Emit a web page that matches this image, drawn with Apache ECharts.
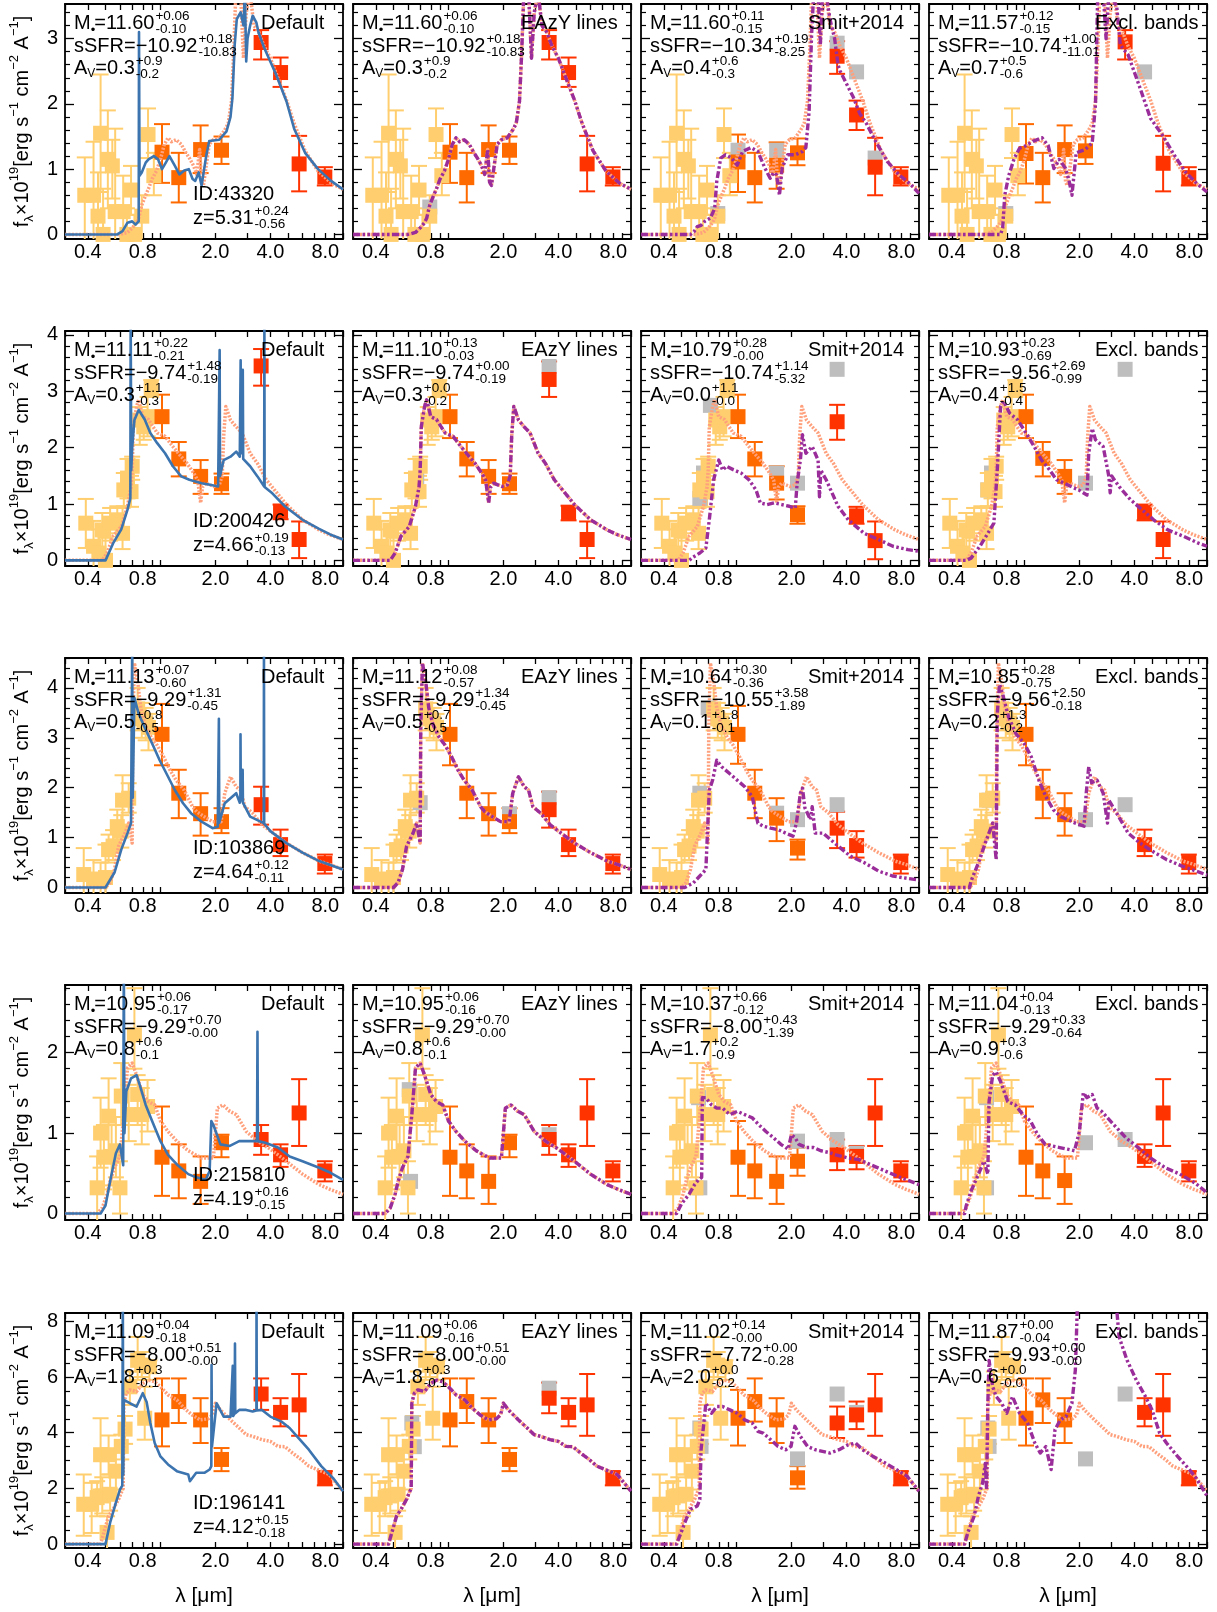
<!DOCTYPE html>
<html>
<head>
<meta charset="utf-8">
<script src="https://cdn.jsdelivr.net/npm/echarts@6/dist/echarts.min.js"></script>
<style>html,body{margin:0;padding:0;background:#fff}#chart{width:1217px;height:1612px}</style>
</head>
<body>
<div id="chart"></div>
<script>
// ---------- axis ticks ----------
const xLabelVals = [0.4, 0.8, 2.0, 4.0, 8.0];
const xTickVals = [0.3,0.4,0.5,0.6,0.7,0.8,0.9,1,2,3,4,5,6,7,8,9,10];
const xRange = [0.3, 10];
const fitLabels = ['Default', 'EAzY lines', 'Smit+2014', 'Excl. bands'];

// y ranges [min, max], major ticks, minor step per row
const yRange1 = [-0.07, 3.53], yMajor1 = [0,1,2,3], yMinorStep1 = 0.2;
const yRange2 = [-0.1, 4.07],  yMajor2 = [0,1,2,3,4], yMinorStep2 = 0.2;
const yRange3 = [-0.11, 4.6],  yMajor3 = [0,1,2,3,4], yMinorStep3 = 0.2;
const yRange4 = [-0.08, 2.84], yMajor4 = [0,1,2], yMinorStep4 = 0.2;
const yRange5 = [-0.14, 8.3],  yMajor5 = [0,2,4,6,8], yMinorStep5 = 0.5;

// ---------- row 1 : ID 43320 ----------
// photometry: [lambda(um), flux, low, high]
const yellow1 = [[0.385,0.60,-0.3,1.18],[0.43,0.60,-0.3,1.42],[0.455,0.28,-0.3,0.95],[0.47,1.55,0.65,2.45],[0.485,0.0,-0.3,0.70],
  [0.515,1.15,0.40,1.90],[0.545,1.05,0.55,1.45],[0.565,0.35,-0.3,1.62],[0.625,0.35,-0.3,0.90],[0.655,0.0,-0.3,0.40],
  [0.69,0.68,0.30,1.05],[0.72,0.0,-0.3,0.30],[0.79,0.28,-0.1,0.60],[0.855,1.53,1.17,1.93],[0.92,0.90,0.60,1.25]];
const nir1 = [[1.02,1.26,0.79,1.69],[1.26,0.87,0.49,1.25],[1.66,1.30,0.94,1.67],[2.16,1.29,1.08,1.50]];
const irac1 = [[3.56,2.94,2.68,3.13],[4.55,2.48,2.26,2.71],[5.75,1.08,0.66,1.51],[7.95,0.88,0.75,1.03]];
const greyEazy1 = [[0.79,0.42]];
const nirSmit1 = [[1.02,1.11,0.65,1.53],[1.26,0.87,0.49,1.25],[1.66,1.06,0.70,1.41],[2.16,1.25,1.06,1.47]];
const iracSmit1 = [[3.56,2.73,2.46,2.96],[4.55,1.83,1.60,2.05],[5.75,1.03,0.60,1.48],[7.95,0.88,0.75,1.03]];
const greySmit1 = [[0.79,0.32],[1.02,1.29],[1.66,1.29],[3.56,2.93],[4.55,2.49],[5.75,1.17]];
const nirExcl1 = [[1.02,1.24,0.78,1.69],[1.26,0.87,0.49,1.25],[1.66,1.30,0.94,1.67],[2.16,1.28,1.08,1.50]];
const iracExcl1 = [[3.56,2.95,2.68,3.13],[5.75,1.09,0.66,1.51],[7.95,0.87,0.75,1.03]];
const greyExcl1 = [[0.79,0.32],[4.55,2.49]];
// model spectra: [lambda(um), flux]
const salmon1 = [[0.3,0],[0.6,0],[0.66,0.03],[0.70,0.10],[0.74,0.18],[0.76,0.25],[0.79,0.45],[0.83,0.6],[0.86,0.70],[0.90,0.85],
  [0.95,0.97],[1.0,1.15],[1.05,1.38],[1.10,1.48],[1.15,1.42],[1.22,1.45],[1.30,1.38],[1.38,1.25],[1.44,1.17],[1.52,1.05],
  [1.58,0.92],[1.64,1.30],[1.68,0.80],[1.72,0.75],[1.78,1.05],[1.85,1.38],[1.95,1.45],[2.1,1.48],[2.25,1.6],[2.35,1.7],
  [2.45,2.04],[2.52,2.8],[2.58,3.6],[2.75,3.7],[2.85,2.7],[2.95,3.4],[3.1,3.7],[3.25,3.2],[3.45,3.10],[3.7,2.88],
  [4.0,2.7],[4.3,2.47],[4.9,2.06],[5.4,1.7],[6.2,1.28],[7.3,0.97],[8.6,0.79],[10,0.69]];
const blue1 = [[0.3,0],[0.58,0],[0.62,0.05],[0.66,0.18],[0.70,0.2],[0.73,0.15],[0.76,0.2],[0.763,3.1],[0.768,0.9],[0.79,0.95],
  [0.83,1.1],[0.86,1.15],[0.92,1.2],[0.97,1.15],[1.02,1.0],[1.07,1.1],[1.12,1.2],[1.2,1.05],[1.27,0.92],[1.35,0.98],
  [1.43,1.0],[1.5,0.85],[1.55,0.82],[1.62,0.95],[1.68,0.75],[1.72,0.72],[1.78,1.2],[1.85,1.43],[2.1,1.45],[2.3,1.58],
  [2.42,1.8],[2.48,2.1],[2.55,2.9],[2.62,3.3],[2.75,3.4],[2.85,3.2],[2.9,3.7],[2.95,2.65],[3.0,3.0],[3.1,3.2],
  [3.2,3.35],[3.35,3.25],[3.45,3.09],[3.7,2.86],[4.3,2.45],[4.9,2.04],[5.4,1.62],[6.2,1.25],[7.3,1.0],[8.6,0.82],[10,0.69]];
const eazyLines1 = salmon1;
const smit1 = [[0.3,0],[0.56,0],[0.585,0.04],[0.61,0.12],[0.64,0.14],[0.67,0.2],[0.72,0.25],[0.76,0.4],[0.78,0.81],[0.82,1.17],
  [0.87,1.22],[0.94,1.17],[1.01,1.06],[1.08,1.27],[1.2,1.33],[1.31,1.27],[1.43,1.02],[1.53,0.86],[1.6,0.95],[1.66,0.91],
  [1.72,0.6],[1.78,1.02],[1.91,1.22],[2.1,1.22],[2.3,1.27],[2.4,1.33],[2.5,1.88],[2.58,3.06],[2.65,3.7],[2.8,3.7],
  [2.88,2.9],[2.95,3.6],[3.1,3.7],[3.25,3.3],[3.45,3.0],[3.6,2.6],[3.7,2.5],[4.37,2.1],[4.74,1.85],[5.15,1.7],
  [5.8,1.42],[6.7,1.12],[7.8,0.91],[8.9,0.78],[10,0.63]];
const excl1 = [[0.3,0],[0.74,0],[0.76,0.1],[0.78,0.6],[0.82,0.9],[0.88,1.17],[0.94,1.32],[1.02,1.36],[1.12,1.43],[1.25,1.48],
  [1.35,1.36],[1.45,1.01],[1.55,1.15],[1.68,1.01],[1.76,0.81],[1.82,0.6],[1.92,1.25],[2.15,1.3],[2.35,1.4],[2.45,2.0],
  [2.52,3.7],[2.7,3.7],[2.8,3.0],[2.9,3.7],[3.2,3.5],[3.35,2.9],[3.7,2.75],[4.3,2.24],[4.9,1.78],[5.7,1.52],
  [6.6,1.22],[7.6,0.96],[8.8,0.78],[10,0.65]];
// fit results: [M, +, -, sSFR, +, -, Av, +, -]
const stats1 = [['11.60','+0.06','-0.10','-10.92','+0.18','-10.83','0.3','+0.9','-0.2'],
                ['11.60','+0.06','-0.10','-10.92','+0.18','-10.83','0.3','+0.9','-0.2'],
                ['11.60','+0.11','-0.15','-10.34','+0.19','-8.25','0.4','+0.6','-0.3'],
                ['11.57','+0.12','-0.15','-10.74','+1.00','-11.01','0.7','+0.5','-0.6']];
const ident1 = ['43320', '5.31', '+0.24', '-0.56'];

// ---------- row 2 : ID 200426 ----------
const yellow2 = [[0.39,0.66,0.22,1.09],[0.43,0.25,-0.3,0.70],[0.46,0.13,-0.3,0.55],[0.48,0.54,-0.3,0.84],[0.50,0.0,-0.3,0.40],
  [0.53,0.66,0.35,0.93],[0.58,0.72,0.48,0.96],[0.62,0.48,0.20,0.93],[0.63,1.25,0.96,1.55],[0.66,1.46,1.10,1.80],
  [0.69,1.22,0.95,1.50],[0.70,1.67,1.43,1.84],[0.77,2.49,2.05,2.72],[0.81,2.37,2.14,2.60],[0.85,2.55,2.20,2.90],[0.89,3.05,2.90,3.20]];
const nir2 = [[1.02,2.55,2.17,2.94],[1.26,1.80,1.49,2.10],[1.66,1.49,1.18,1.78],[2.16,1.36,1.18,1.54]];
const irac2 = [[3.56,3.45,3.10,3.75],[4.55,0.87,0.73,0.99],[5.75,0.37,0.04,0.69]];
const iracEazy2 = [[3.56,3.21,2.90,3.53],[4.55,0.85,0.71,0.97],[5.75,0.37,0.04,0.69]];
const greyEazy2 = [[0.67,1.45],[3.56,3.44]];
const nirSmit2 = [[1.02,2.55,2.17,2.94],[1.26,1.80,1.49,2.10],[1.66,1.37,1.08,1.67],[2.16,0.81,0.65,0.96]];
const iracSmit2 = [[3.56,2.46,2.14,2.76],[4.55,0.79,0.65,0.95],[5.75,0.35,0.02,0.69]];
const greySmit2 = [[0.63,1.1],[0.66,1.55],[0.72,2.75],[1.66,1.55],[2.16,1.37],[3.56,3.39]];
const nirExcl2 = [[1.02,2.55,2.17,2.94],[1.26,1.81,1.49,2.10],[1.66,1.49,1.18,1.78]];
const iracExcl2 = [[4.55,0.85,0.71,0.99],[5.75,0.37,0.04,0.69]];
const greyExcl2 = [[0.63,1.25],[0.66,1.55],[2.16,1.37],[3.56,3.39]];
const salmon2 = [[0.3,0],[0.48,0],[0.51,0.13],[0.55,0.43],[0.61,0.6],[0.66,0.96],[0.69,1.3],[0.70,1.6],[0.71,2.37],[0.74,2.73],
  [0.76,2.85],[0.78,2.7],[0.80,2.55],[0.86,2.5],[0.92,2.35],[0.96,2.26],[1.06,2.2],[1.17,2.02],[1.3,1.84],[1.4,1.72],
  [1.52,1.55],[1.6,1.42],[1.66,1.02],[1.7,1.3],[1.77,1.37],[1.96,1.31],[2.1,1.34],[2.18,1.5],[2.22,2.2],[2.28,2.73],
  [2.42,2.49],[2.6,2.37],[2.8,2.26],[3.1,1.9],[3.4,1.72],[3.8,1.43],[4.9,0.99],[6.0,0.72],[7.4,0.54],[8.5,0.45],[10,0.37]];
const blue2 = [[0.3,0],[0.5,0],[0.55,0.3],[0.61,0.55],[0.66,0.9],[0.684,1.1],[0.687,4.3],[0.692,1.6],[0.70,2.0],[0.72,2.49],
  [0.76,2.67],[0.82,2.5],[0.88,2.26],[0.96,2.08],[1.06,1.9],[1.17,1.67],[1.3,1.49],[1.44,1.43],[1.68,1.37],[1.87,1.34],
  [2.07,1.31],[2.105,1.3],[2.11,3.73],[2.12,1.5],[2.22,1.78],[2.42,1.84],[2.6,1.93],[2.72,1.84],[2.745,1.85],[2.75,3.55],
  [2.76,1.9],[2.8,1.9],[2.825,3.38],[2.84,1.8],[3.1,1.67],[3.4,1.49],[3.7,1.31],[3.71,4.3],[3.72,1.3],[4.1,1.19],
  [4.8,0.96],[6.0,0.72],[7.4,0.56],[8.5,0.46],[10,0.37]];
const eazyLines2 = salmon2;
const smit2 = [[0.3,0],[0.55,0],[0.58,0.06],[0.63,0.13],[0.68,0.22],[0.71,0.72],[0.75,1.43],[0.8,1.78],[0.84,1.6],[0.88,1.67],
  [0.96,1.61],[1.06,1.55],[1.17,1.43],[1.28,1.25],[1.35,1.02],[1.47,0.99],[1.61,1.02],[1.77,0.99],[1.95,0.96],[2.1,0.93],
  [2.15,1.37],[2.24,1.78],[2.3,2.23],[2.4,1.9],[2.6,2.02],[2.8,1.78],[2.85,1.13],[2.9,1.6],[3.1,1.43],[3.6,0.96],
  [4.1,0.72],[5.0,0.48],[6.0,0.37],[7.2,0.25],[8.7,0.19],[10,0.16]];
const excl2 = [[0.3,0],[0.48,0],[0.51,0.04],[0.57,0.25],[0.63,0.48],[0.68,0.66],[0.71,1.61],[0.74,2.73],[0.77,2.82],[0.83,2.61],
  [0.92,2.49],[1.02,2.26],[1.13,2.02],[1.24,1.78],[1.37,1.61],[1.5,1.43],[1.65,1.37],[1.8,1.31],[1.98,1.25],[2.2,1.16],
  [2.25,1.9],[2.35,2.34],[2.45,2.14],[2.7,2.02],[2.9,1.49],[2.95,1.2],[3.0,1.5],[3.3,1.31],[3.8,1.08],[4.4,0.9],
  [5.1,0.72],[6.1,0.54],[7.4,0.43],[8.9,0.31],[10,0.25]];
const stats2 = [['11.11','+0.22','-0.21','-9.74','+1.48','-0.19','0.3','+1.1','-0.3'],
                ['11.10','+0.13','-0.03','-9.74','+0.00','-0.19','0.3','+0.0','-0.2'],
                ['10.79','+0.28','-0.00','-10.74','+1.14','-5.32','0.0','+1.1','-0.0'],
                ['10.93','+0.23','-0.69','-9.56','+2.69','-0.99','0.4','+1.5','-0.4']];
const ident2 = ['200426', '4.66', '+0.19', '-0.13'];

// ---------- row 3 : ID 103869 ----------
const yellow3 = [[0.38,0.26,-0.3,0.79],[0.43,0.17,-0.3,0.55],[0.47,0.13,-0.3,0.50],[0.50,0.20,-0.3,0.86],[0.52,0.76,0.50,1.06],
  [0.55,0.83,0.55,1.15],[0.58,1.22,0.96,1.56],[0.61,1.13,0.80,1.45],[0.62,1.75,1.22,2.25],[0.67,1.79,1.50,2.09],
  [0.75,3.58,3.15,4.0],[0.79,3.38,3.0,3.7],[0.83,3.30,2.95,3.6],[0.86,3.21,2.75,3.48]];
const nir3 = [[1.02,3.07,2.45,3.68],[1.26,1.89,1.39,2.36],[1.66,1.48,1.04,1.89],[2.16,1.32,1.09,1.59]];
const irac3 = [[3.56,1.66,1.26,2.02],[4.55,0.86,0.63,1.16],[7.95,0.48,0.28,0.66]];
const iracEazy3 = [[3.56,1.56,1.20,1.92],[4.55,0.86,0.63,1.16],[7.95,0.48,0.28,0.66]];
const greyEazy3 = [[0.70,1.7],[2.16,1.48],[3.56,1.8]];
const nirSmit3 = [[1.02,3.07,2.48,3.64],[1.26,1.89,1.39,2.36],[1.66,1.39,0.93,1.79],[2.16,0.79,0.56,0.96]];
const iracSmit3 = [[3.56,1.19,0.79,1.52],[4.55,0.84,0.60,1.13],[7.95,0.50,0.28,0.66]];
const greySmit3 = [[0.63,1.89],[0.70,3.6],[1.66,1.49],[2.16,1.36],[3.56,1.66]];
const nirExcl3 = [[1.02,3.07,2.45,3.68],[1.26,1.89,1.39,2.36],[1.66,1.46,1.04,1.89]];
const iracExcl3 = [[4.55,0.86,0.63,1.16],[7.95,0.50,0.28,0.66]];
const greyExcl3 = [[0.64,1.75],[2.16,1.36],[3.56,1.66]];
const salmon3 = [[0.3,0],[0.5,0],[0.53,0.1],[0.56,0.36],[0.59,0.83],[0.64,1.09],[0.67,1.29],[0.70,0.89],[0.705,3.15],[0.72,4.5],
  [0.75,4.14],[0.78,3.6],[0.82,3.28],[0.89,3.01],[0.96,2.85],[1.04,2.62],[1.13,2.35],[1.22,2.15],[1.35,1.95],[1.5,1.62],
  [1.58,1.52],[1.74,1.42],[1.93,1.32],[2.15,1.32],[2.25,1.89],[2.42,2.22],[2.6,2.02],[2.75,1.95],[2.9,1.62],[3.2,1.49],
  [3.6,1.26],[4.0,1.13],[4.9,0.89],[6.0,0.7],[7.4,0.53],[8.5,0.46],[10,0.36]];
const blue3 = [[0.3,0],[0.5,0],[0.56,0.3],[0.61,0.76],[0.66,1.09],[0.69,1.29],[0.695,1.3],[0.70,4.8],[0.705,1.8],[0.72,3.8],
  [0.76,3.48],[0.82,3.21],[0.92,2.81],[0.99,2.55],[1.08,2.28],[1.2,1.95],[1.33,1.69],[1.47,1.49],[1.68,1.32],[1.93,1.19],
  [2.06,1.22],[2.08,1.25],[2.09,3.38],[2.1,1.3],[2.25,1.69],[2.6,1.89],[2.72,1.7],[2.74,1.75],[2.745,3.07],[2.755,1.8],
  [2.8,1.75],[2.82,2.36],[2.83,1.7],[3.1,1.42],[3.4,1.35],[3.68,1.29],[3.69,4.8],[3.7,1.28],[4.0,1.13],[4.9,0.89],
  [6.0,0.7],[7.4,0.53],[10,0.36]];
const eazyLines3 = salmon3;
const smit3 = [[0.3,0],[0.52,0],[0.58,0.09],[0.63,0.23],[0.68,0.36],[0.71,1.95],[0.74,2.15],[0.78,2.55],[0.83,2.42],[0.92,2.28],
  [1.01,2.15],[1.11,2.02],[1.22,1.82],[1.31,1.29],[1.4,1.23],[1.54,1.19],[1.69,1.16],[1.86,1.09],[2.04,1.03],[2.13,1.29],
  [2.24,1.89],[2.3,1.99],[2.37,1.6],[2.54,1.36],[2.6,1.62],[2.7,1.09],[2.98,1.09],[3.45,0.89],[4.2,0.63],[5.0,0.5],
  [6.0,0.33],[7.2,0.23],[8.7,0.18],[10,0.15]];
const excl3 = [[0.3,0],[0.5,0],[0.51,0.13],[0.56,0.5],[0.62,0.96],[0.67,1.29],[0.70,0.56],[0.71,3.48],[0.73,4.07],[0.76,3.87],
  [0.82,3.41],[0.9,3.08],[1.0,2.88],[1.09,2.62],[1.2,2.15],[1.31,1.82],[1.44,1.56],[1.58,1.42],[1.73,1.36],[1.9,1.29],
  [2.12,1.23],[2.18,1.89],[2.25,2.42],[2.33,2.1],[2.5,2.15],[2.7,1.89],[2.85,1.29],[2.9,1.75],[3.2,1.49],[3.7,1.09],
  [4.3,0.89],[5.0,0.73],[6.0,0.56],[7.3,0.43],[8.7,0.33],[10,0.25]];
const stats3 = [['11.13','+0.07','-0.60','-9.29','+1.31','-0.45','0.5','+0.8','-0.5'],
                ['11.12','+0.08','-0.57','-9.29','+1.34','-0.45','0.5','+0.7','-0.5'],
                ['10.64','+0.30','-0.36','-10.55','+3.58','-1.89','0.1','+1.8','-0.1'],
                ['10.85','+0.28','-0.75','-9.56','+2.50','-0.18','0.2','+1.3','-0.2']];
const ident3 = ['103869', '4.64', '+0.12', '-0.11'];

// ---------- row 4 : ID 215810 ----------
const yellow4 = [[0.45,0.32,-0.3,0.71],[0.47,1.0,0.57,1.44],[0.49,0.70,0.30,1.10],[0.52,1.21,0.78,1.68],[0.54,0.71,0.35,1.10],
  [0.57,0.78,0.45,1.20],[0.60,0.32,0.0,0.65],[0.61,1.46,1.10,1.87],[0.67,1.23,0.90,1.60],[0.72,2.22,1.80,2.8],
  [0.75,1.48,1.10,1.72],[0.79,1.23,0.86,1.56],[0.85,1.33,1.02,1.66]];
const nir4 = [[1.02,0.70,0.22,1.33],[1.26,0.53,0.19,0.86],[1.66,0.40,0.12,0.71],[2.16,0.88,0.70,0.98]];
const irac4 = [[3.56,0.92,0.73,1.10],[4.55,0.73,0.58,0.86],[5.75,1.25,0.84,1.67],[7.95,0.53,0.40,0.65]];
const iracEazy4 = irac4;
const greyEazy4 = [[0.61,1.54],[0.62,0.40],[3.56,0.98]];
const nirSmit4 = [[1.02,0.70,0.22,1.15],[1.26,0.53,0.19,0.86],[1.66,0.40,0.12,0.71],[2.16,0.65,0.47,0.82]];
const iracSmit4 = [[3.56,0.73,0.54,0.92],[4.55,0.71,0.55,0.84],[5.75,1.25,0.84,1.67],[7.95,0.53,0.40,0.65]];
const greySmit4 = [[0.62,1.44],[0.63,0.32],[2.16,0.90],[3.56,0.92],[4.55,0.75]];
const nirExcl4 = [[1.02,0.70,0.22,1.33],[1.26,0.53,0.19,0.86],[1.66,0.41,0.12,0.71]];
const iracExcl4 = [[4.55,0.71,0.58,0.86],[5.75,1.25,0.84,1.67],[7.95,0.53,0.40,0.65]];
const greyExcl4 = [[0.62,1.44],[0.62,0.32],[2.16,0.88],[3.56,0.92]];
const salmon4 = [[0.3,0],[0.45,0],[0.48,0.07],[0.51,0.24],[0.53,0.4],[0.56,0.57],[0.6,0.71],[0.63,1.23],[0.66,1.81],[0.70,1.87],
  [0.74,1.72],[0.8,1.48],[0.86,1.39],[0.93,1.35],[1.0,1.15],[1.1,1.02],[1.23,0.9],[1.42,0.78],[1.68,0.69],[1.95,0.69],
  [2.0,1.0],[2.05,1.31],[2.2,1.35],[2.4,1.27],[2.6,1.23],[2.95,1.02],[3.4,0.9],[4.0,0.8],[4.9,0.65],[6.0,0.49],
  [7.4,0.36],[8.5,0.3],[10,0.24]];
const blue4 = [[0.3,0],[0.47,0],[0.5,0.1],[0.53,0.4],[0.57,0.75],[0.6,0.86],[0.625,0.6],[0.63,3.2],[0.635,1.0],[0.65,1.52],
  [0.69,1.68],[0.74,1.72],[0.77,1.6],[0.83,1.35],[0.9,1.15],[1.0,0.9],[1.1,0.73],[1.23,0.61],[1.42,0.49],[1.57,0.45],
  [1.77,0.42],[1.86,0.53],[1.9,1.15],[1.95,1.1],[2.13,0.86],[2.4,0.84],[2.7,0.9],[3.1,0.9],[3.38,0.9],[3.4,2.26],
  [3.42,0.9],[3.75,0.88],[4.4,0.82],[5.1,0.71],[6.0,0.65],[7.4,0.57],[8.5,0.51],[10,0.42]];
const eazyLines4 = salmon4;
const smit4 = [[0.3,0],[0.47,0],[0.5,0.12],[0.55,0.24],[0.59,0.36],[0.62,0.42],[0.645,0.45],[0.65,1.44],[0.68,1.44],[0.73,1.35],
  [0.78,1.31],[0.84,1.31],[0.92,1.23],[1.01,1.27],[1.11,1.23],[1.22,1.19],[1.33,1.1],[1.45,1.02],[1.6,0.94],[1.75,0.86],
  [1.92,0.8],[2.0,0.98],[2.1,0.94],[2.2,0.86],[2.42,0.82],[2.65,0.82],[2.9,0.78],[3.2,0.76],[3.5,0.73],[4.1,0.69],
  [4.7,0.67],[5.4,0.61],[6.5,0.53],[7.9,0.45],[10,0.36]];
const excl4 = [[0.3,0],[0.47,0],[0.48,0.1],[0.51,0.28],[0.56,0.49],[0.6,0.65],[0.63,0.49],[0.64,1.39],[0.67,1.72],[0.7,1.76],
  [0.74,1.64],[0.81,1.39],[0.89,1.35],[0.98,1.23],[1.08,1.15],[1.18,0.98],[1.3,0.86],[1.42,0.84],[1.56,0.82],[1.72,0.8],
  [1.88,0.78],[2.0,1.02],[2.1,1.5],[2.2,1.44],[2.35,1.48],[2.5,1.31],[2.65,1.27],[2.85,1.19],[3.1,1.1],[3.6,0.94],
  [4.2,0.82],[4.9,0.69],[5.9,0.57],[7.1,0.49],[8.6,0.38],[10,0.26]];
const stats4 = [['10.95','+0.06','-0.17','-9.29','+0.70','-0.00','0.8','+0.6','-0.1'],
                ['10.95','+0.06','-0.16','-9.29','+0.70','-0.00','0.8','+0.6','-0.1'],
                ['10.37','+0.66','-0.12','-8.00','+0.43','-1.39','1.7','+0.2','-0.9'],
                ['11.04','+0.04','-0.13','-9.29','+0.33','-0.64','0.9','+0.3','-0.6']];
const ident4 = ['215810', '4.19', '+0.16', '-0.15'];

// ---------- row 5 : ID 196141 ----------
const yellow5 = [[0.38,1.43,0.30,2.50],[0.42,1.43,0.40,2.20],[0.45,1.67,1.00,2.26],[0.47,3.21,1.96,4.52],[0.48,1.73,1.10,2.40],
  [0.51,0.42,-0.3,1.00],[0.52,3.21,2.50,3.90],[0.53,1.79,1.20,2.50],[0.57,2.62,1.96,3.39],[0.61,3.51,3.04,3.93],
  [0.64,4.13,3.60,4.60],[0.68,5.65,5.00,6.20],[0.75,6.60,5.90,7.44],[0.79,6.43,6.00,6.90],[0.82,4.52,3.75,5.65],[0.87,6.37,5.90,6.60]];
const nir5 = [[1.02,4.46,3.51,5.95],[1.26,5.12,4.35,5.95],[1.66,4.46,3.63,5.24],[2.16,3.04,2.62,3.45]];
const irac5 = [[3.56,5.39,4.82,5.95],[4.55,4.73,4.23,5.24],[5.75,5.00,3.89,6.11],[7.95,2.38,2.11,2.62]];
const iracEazy5 = [[3.56,5.24,4.70,5.80],[4.55,4.73,4.23,5.24],[5.75,5.00,3.89,6.11],[7.95,2.38,2.11,2.62]];
const greyEazy5 = [[0.63,4.35],[0.65,3.5],[3.56,5.6]];
const nirSmit5 = [[1.02,4.52,3.54,5.54],[1.26,5.12,4.40,5.95],[1.66,4.46,3.63,5.24],[2.16,2.38,1.99,2.80]];
const iracSmit5 = [[3.56,4.35,3.81,4.94],[4.55,4.64,4.13,5.12],[5.75,5.00,3.89,6.11],[7.95,2.38,2.11,2.62]];
const greySmit5 = [[0.63,4.17],[0.64,3.51],[2.16,3.06],[3.56,5.39],[4.55,4.73]];
const nirExcl5 = [[1.02,4.52,3.54,5.95],[1.26,5.18,4.35,5.95],[1.66,4.46,3.63,5.24]];
const iracExcl5 = [[4.55,4.73,4.23,5.24],[5.75,5.00,3.89,6.11],[7.95,2.38,2.11,2.62]];
const greyExcl5 = [[0.63,4.17],[0.64,3.51],[2.16,3.06],[3.56,5.39]];
const salmon5 = [[0.3,0],[0.47,0],[0.49,0.42],[0.52,1.01],[0.55,1.25],[0.59,1.61],[0.61,1.85],[0.625,2.0],[0.63,5.06],[0.65,5.42],
  [0.68,5.54],[0.74,5.48],[0.8,5.77],[0.86,5.89],[0.93,5.83],[1.0,5.65],[1.1,5.36],[1.23,5.18],[1.35,4.88],[1.49,4.64],
  [1.65,4.46],[1.83,4.5],[1.93,4.64],[2.0,5.06],[2.13,4.82],[2.42,4.46],[2.7,4.17],[2.95,3.93],[3.2,3.87],[3.6,3.75],
  [4.0,3.69],[4.4,3.51],[4.8,3.5],[5.3,3.27],[5.9,3.04],[6.5,2.8],[7.6,2.62],[8.4,2.5],[10,1.9]];
const blue5 = [[0.3,0],[0.5,0],[0.53,0.77],[0.57,1.49],[0.6,1.96],[0.618,2.1],[0.622,9],[0.626,2.5],[0.63,5.18],[0.68,5.06],
  [0.74,4.94],[0.8,5.42],[0.84,5.1],[0.88,4.35],[0.93,3.63],[1.0,3.15],[1.1,2.86],[1.23,2.62],[1.42,2.5],[1.45,2.26],
  [1.57,2.56],[1.74,2.56],[1.86,2.68],[1.9,2.8],[1.905,6.43],[1.915,3.5],[2.03,5.06],[2.22,4.58],[2.42,4.58],[2.48,4.6],
  [2.49,6.4],[2.5,4.6],[2.55,4.7],[2.56,7.2],[2.57,4.7],[2.7,4.82],[2.95,4.82],[3.2,4.76],[3.355,4.8],[3.36,9],
  [3.37,4.8],[3.6,4.82],[4.0,4.58],[4.6,4.4],[5.1,4.17],[5.6,3.87],[6.5,3.39],[7.6,2.8],[8.8,2.38],[10,1.9]];
const eazyLines5 = salmon5;
const smit5 = [[0.3,0],[0.47,0],[0.49,0.3],[0.53,0.89],[0.56,1.25],[0.61,1.37],[0.63,1.6],[0.64,3.39],[0.68,5.06],[0.73,4.7],
  [0.78,4.94],[0.84,4.94],[0.92,4.82],[1.01,4.7],[1.11,4.46],[1.22,4.35],[1.31,4.05],[1.4,3.99],[1.54,3.75],[1.69,3.51],
  [1.86,3.39],[1.99,3.51],[2.09,4.23],[2.24,3.87],[2.45,3.51],[2.7,3.39],[2.96,3.33],[3.25,3.27],[3.65,3.39],[4.1,3.57],
  [4.5,3.63],[4.9,3.39],[5.6,3.15],[6.5,2.92],[7.5,2.68],[8.6,2.44],[10,1.9]];
const excl5 = [[0.3,0],[0.47,0],[0.49,0.42],[0.53,1.0],[0.56,1.73],[0.59,2.2],[0.61,2.9],[0.62,1.96],[0.63,5.06],[0.64,6.6],
  [0.67,5.65],[0.7,5.3],[0.75,5.06],[0.8,4.7],[0.86,5.3],[0.94,4.7],[1.04,4.35],[1.14,3.63],[1.22,3.27],[1.31,3.5],
  [1.4,2.68],[1.47,4.11],[1.57,4.46],[1.69,4.58],[1.82,5.06],[1.9,6.25],[1.95,8.6],[2.1,9.5],[2.3,8.6],[2.5,9.5],
  [2.8,8.6],[3.1,9.5],[3.3,7.44],[3.65,6.6],[4.1,5.89],[4.6,5.3],[5.0,4.82],[5.5,3.99],[6.0,3.63],[6.9,3.15],
  [8.0,2.68],[8.7,2.38],[10,1.73]];
const stats5 = [['11.09','+0.04','-0.18','-8.00','+0.51','-0.00','1.8','+0.3','-0.1'],
                ['11.09','+0.06','-0.16','-8.00','+0.51','-0.00','1.8','+0.3','-0.1'],
                ['11.02','+0.14','-0.00','-7.72','+0.00','-0.28','2.0','+0.0','-0.2'],
                ['11.87','+0.00','-0.04','-9.93','+0.00','-0.00','0.6','+0.0','-0.0']];
const ident5 = ['196141', '4.12', '+0.15', '-0.18'];

// ---------- assembly ----------
const rows = [
  {yr: yRange1, maj: yMajor1, step: yMinorStep1, yel: yellow1, sal: salmon1, model: [blue1, eazyLines1, smit1, excl1],
   nir: [nir1, nir1, nirSmit1, nirExcl1], irac: [irac1, irac1, iracSmit1, iracExcl1], grey: [[], greyEazy1, greySmit1, greyExcl1], stats: stats1, ident: ident1},
  {yr: yRange2, maj: yMajor2, step: yMinorStep2, yel: yellow2, sal: salmon2, model: [blue2, eazyLines2, smit2, excl2],
   nir: [nir2, nir2, nirSmit2, nirExcl2], irac: [irac2, iracEazy2, iracSmit2, iracExcl2], grey: [[], greyEazy2, greySmit2, greyExcl2], stats: stats2, ident: ident2},
  {yr: yRange3, maj: yMajor3, step: yMinorStep3, yel: yellow3, sal: salmon3, model: [blue3, eazyLines3, smit3, excl3],
   nir: [nir3, nir3, nirSmit3, nirExcl3], irac: [irac3, iracEazy3, iracSmit3, iracExcl3], grey: [[], greyEazy3, greySmit3, greyExcl3], stats: stats3, ident: ident3},
  {yr: yRange4, maj: yMajor4, step: yMinorStep4, yel: yellow4, sal: salmon4, model: [blue4, eazyLines4, smit4, excl4],
   nir: [nir4, nir4, nirSmit4, nirExcl4], irac: [irac4, iracEazy4, iracSmit4, iracExcl4], grey: [[], greyEazy4, greySmit4, greyExcl4], stats: stats4, ident: ident4},
  {yr: yRange5, maj: yMajor5, step: yMinorStep5, yel: yellow5, sal: salmon5, model: [blue5, eazyLines5, smit5, excl5],
   nir: [nir5, nir5, nirSmit5, nirExcl5], irac: [irac5, iracEazy5, iracSmit5, iracExcl5], grey: [[], greyEazy5, greySmit5, greyExcl5], stats: stats5, ident: ident5}
];

// layout (pixels)
const colLeft = [65, 353, 641, 929], PW = 278;
const rowTop = [4, 331, 658, 985, 1313], PH = 235;

const C = {yellow: '#FFCE6E', orange: '#FF6A00', red: '#FF3300', grey: '#BEBEBE',
           salmon: '#FFA07C', blue: '#3C74AF', purple: '#9A2D9A', ink: '#000'};
const FONT = '"Liberation Sans", Arial, sans-serif';
const FS = 20, FS_SMALL = 13.5;
const lg = v => Math.log10(v);

const measureCtx = document.createElement('canvas').getContext('2d');
function tw(s, fs) { measureCtx.font = fs + 'px ' + FONT; return measureCtx.measureText(s).width; }
function txt(x, y, s, fs, align) {
  return {type: 'text', x: x, y: y, silent: true, z: 100,
    style: {text: s, fontSize: fs, fontFamily: FONT, fill: C.ink, align: align || 'left', verticalAlign: 'middle'}};
}
// lays out a run of text pieces; {sup, sub} pieces are stacked
function run(out, x, yc, pieces) {
  for (const p of pieces) {
    if (p.sup !== undefined) {
      out.push(txt(x + 1, yc - 7, p.sup, FS_SMALL));
      out.push(txt(x + 1, yc + 6.5, p.sub, FS_SMALL));
      x += Math.max(tw(p.sup, FS_SMALL), tw(p.sub, FS_SMALL)) + 1;
    } else {
      const fs = p.fs || FS;
      out.push(txt(x, yc + (p.dy || 0), p.t, fs));
      x += tw(p.t, fs) + (p.pad || 0);
    }
  }
  return x;
}
const minus = s => s.replace('-', '\u2212');

function frange(a, b, step) {
  const out = [];
  for (let k = Math.ceil(a / step - 1e-9); k * step <= b + 1e-9; k++) out.push(+(k * step).toFixed(3));
  return out;
}

const grids = [], xAxes = [], yAxes = [], series = [], graphics = [];

function errSeries(g, data, color) {
  return {type: 'custom', xAxisIndex: 2 * g, yAxisIndex: 4 * g, clip: true, silent: true,
    data: data.map(d => [lg(d[0]), d[1], d[2], d[3]]), encode: {x: 0, y: 1},
    renderItem: function (params, api) {
      const x = api.value(0);
      const a = api.coord([x, api.value(3)]), b = api.coord([x, api.value(2)]);
      const w = 8, st = {stroke: color, lineWidth: 2};
      return {type: 'group', children: [
        {type: 'line', shape: {x1: a[0], y1: a[1], x2: b[0], y2: b[1]}, style: st},
        {type: 'line', shape: {x1: a[0] - w, y1: a[1], x2: a[0] + w, y2: a[1]}, style: st},
        {type: 'line', shape: {x1: b[0] - w, y1: b[1], x2: b[0] + w, y2: b[1]}, style: st}]};
    }};
}
function squares(g, data, color) {
  return {type: 'scatter', xAxisIndex: 2 * g, yAxisIndex: 4 * g, silent: true, symbol: 'rect', symbolSize: 15,
    itemStyle: {color: color, opacity: 1}, data: data.map(d => [lg(d[0]), d[1]])};
}
function spectrum(g, pts, color, width, dash) {
  return {type: 'line', xAxisIndex: 2 * g, yAxisIndex: 4 * g, silent: true, showSymbol: false, symbol: 'none', clip: true,
    data: pts.map(p => [lg(p[0]), p[1]]), lineStyle: {color: color, width: width, type: dash, cap: 'butt', join: 'round'}};
}

const axisLineStyle = {show: true, onZero: false, lineStyle: {color: C.ink, width: 1.8}};

rows.forEach((R, r) => {
  const minors = frange(R.yr[0], R.yr[1], R.step).filter(v => R.maj.indexOf(v) < 0);
  for (let c = 0; c < 4; c++) {
    const g = r * 4 + c;
    const L = colLeft[c], T = rowTop[r];
    grids.push({left: L, top: T, width: PW, height: PH, containLabel: false, outerBoundsMode: 'none'});
    const xBase = {type: 'value', gridIndex: g, min: lg(xRange[0]), max: lg(xRange[1]), splitLine: {show: false}, axisLine: axisLineStyle};
    xAxes.push(Object.assign({}, xBase, {position: 'bottom',
      axisTick: {show: true, inside: true, length: 6, customValues: xTickVals.map(lg), lineStyle: {color: C.ink, width: 1.3}},
      axisLabel: {show: true, customValues: xLabelVals.map(lg), margin: 3, fontSize: FS, fontFamily: FONT, color: C.ink,
        formatter: v => Math.pow(10, v).toFixed(1)}}));
    xAxes.push(Object.assign({}, xBase, {position: 'top',
      axisTick: {show: true, inside: true, length: 6, customValues: xTickVals.map(lg), lineStyle: {color: C.ink, width: 1.3}},
      axisLabel: {show: false}}));
    const yBase = {type: 'value', gridIndex: g, min: R.yr[0], max: R.yr[1], splitLine: {show: false}};
    yAxes.push(Object.assign({}, yBase, {position: 'left', axisLine: axisLineStyle,
      axisTick: {show: true, inside: true, length: 9, customValues: R.maj, lineStyle: {color: C.ink, width: 1.3}},
      axisLabel: {show: c === 0, customValues: R.maj, margin: 7, fontSize: FS, fontFamily: FONT, color: C.ink}}));
    yAxes.push(Object.assign({}, yBase, {position: 'right', axisLine: axisLineStyle,
      axisTick: {show: true, inside: true, length: 9, customValues: R.maj, lineStyle: {color: C.ink, width: 1.3}},
      axisLabel: {show: false}}));
    yAxes.push(Object.assign({}, yBase, {position: 'left', axisLine: {show: false, onZero: false},
      axisTick: {show: true, inside: true, length: 5, customValues: minors, lineStyle: {color: C.ink, width: 1.2}},
      axisLabel: {show: false}}));
    yAxes.push(Object.assign({}, yBase, {position: 'right', axisLine: {show: false, onZero: false},
      axisTick: {show: true, inside: true, length: 5, customValues: minors, lineStyle: {color: C.ink, width: 1.2}},
      axisLabel: {show: false}}));

    // marks, back to front
    series.push(squares(g, R.grey[c], C.grey));
    series.push(errSeries(g, R.yel, C.yellow));
    series.push(squares(g, R.yel, C.yellow));
    series.push(errSeries(g, R.nir[c], C.orange));
    series.push(squares(g, R.nir[c], C.orange));
    series.push(errSeries(g, R.irac[c], C.red));
    series.push(squares(g, R.irac[c], C.red));
    series.push(spectrum(g, R.sal, C.salmon, 3.5, [2, 1.5]));
    if (c === 0) series.push(spectrum(g, R.model[0], C.blue, 2.6, 'solid'));
    else series.push(spectrum(g, R.model[c], C.purple, 3.4, [7, 2.5, 2.5, 2.5, 2.5, 2.5]));

    // annotations
    const s = R.stats[c];
    run(graphics, L + 9, T + 19, [{t: 'M'}, {t: '\u2022', fs: 13, dy: 7, pad: -1}, {t: '=' + s[0]}, {sup: s[1], sub: s[2]}]);
    run(graphics, L + 9, T + 42, [{t: 'sSFR=' + minus(s[3])}, {sup: s[4], sub: s[5]}]);
    run(graphics, L + 9, T + 64, [{t: 'A'}, {t: 'V', fs: 12, dy: 6}, {t: '=' + s[6]}, {sup: s[7], sub: s[8]}]);
    const labelLeft = [196, 168, 167, 166][c];
    graphics.push(txt(L + labelLeft, T + 19, fitLabels[c], FS));
    if (c === 0) {
      graphics.push(txt(L + 128, T + 190, 'ID:' + R.ident[0], FS));
      run(graphics, L + 128, T + 214, [{t: 'z=' + R.ident[1]}, {sup: R.ident[2], sub: R.ident[3]}]);
      graphics.push({type: 'text', x: 22, y: T + PH / 2, rotation: Math.PI / 2, silent: true, z: 100,
        style: {text: '{n|f}{d|\u03bb}{n|\u00d710}{u|19}{n|[erg s}{u|\u22121}{n| cm}{u|\u22122}{n| A}{u|\u22121}{n|]}',
          align: 'center', verticalAlign: 'middle', fontFamily: FONT, fill: C.ink,
          rich: {n: {fontSize: FS, lineHeight: 28, fontFamily: FONT, fill: C.ink},
                 u: {fontSize: 13, verticalAlign: 'top', fontFamily: FONT, fill: C.ink},
                 d: {fontSize: 13, verticalAlign: 'bottom', fontFamily: FONT, fill: C.ink}}}});
    }
    if (r === 4) {
      graphics.push({type: 'text', x: L + PW / 2, y: 1596, silent: true, z: 100,
        style: {text: '\u03bb [\u03bcm]', fontSize: 21, fontFamily: FONT, fill: C.ink, align: 'center', verticalAlign: 'middle'}});
    }
  }
});

const chart = echarts.init(document.getElementById('chart'), null, {renderer: 'canvas', width: 1217, height: 1612});
chart.setOption({
  animation: false,
  backgroundColor: '#fff',
  grid: grids, xAxis: xAxes, yAxis: yAxes, series: series, graphic: graphics
});
</script>
</body>
</html>
